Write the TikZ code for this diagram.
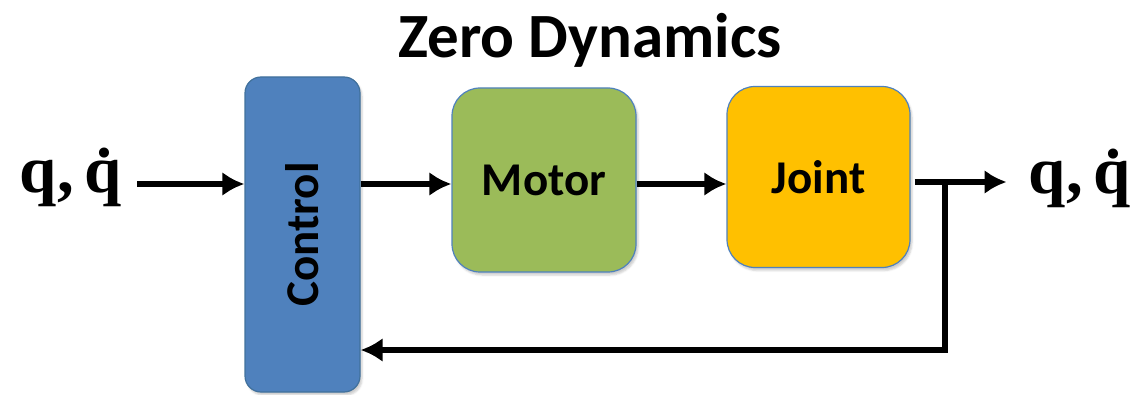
\documentclass[tikz,border=0pt]{standalone}
\usepackage{fontspec}
\setmainfont{Liberation Serif}
\setsansfont{Carlito}
\usepackage{graphicx}
\usetikzlibrary{arrows.meta,shadows.blur}
\definecolor{ctrlblue}{HTML}{4F81BD}
\definecolor{ctrledge}{HTML}{41719C}
\definecolor{motorgreen}{HTML}{9BBB59}
\definecolor{jointorange}{HTML}{FFC000}

\begin{document}
\begin{tikzpicture}[x=1pt,y=-1pt,
  >={Latex[length=22pt,width=24pt]},
  box/.style = {draw=ctrlblue, line width=1.2pt, rounded corners=28pt
    , blur shadow={shadow xshift=2pt,shadow yshift=-3pt,shadow opacity=20}
    , inner sep=0pt, align=center
    , font=\sffamily\bfseries\fontsize{47}{47}\selectfont},
  sig/.style = {line width=6.5pt, ->},
  lbl/.style = {inner sep=0pt, font=\bfseries\fontsize{67}{67}\selectfont}]

 \useasboundingbox (0,0) rectangle (1140,395);
 \coordinate (lvl) at (0,184);
 \coordinate (fb) at (0,350);

 \node [inner sep=0pt, font=\sffamily\bfseries\fontsize{63}{63}\selectfont]
    (ttl) at (590,40) {Zero Dynamics};

 \node[box, fill=ctrlblue, draw=ctrledge, rounded corners=16pt
    , minimum width=115pt, minimum height=315pt] (ctrl) at (302.5,234.5)
    {\rotatebox{90}{Control}};
 \node[box, fill=motorgreen, minimum width=184pt, minimum height=184pt]
    (motor) at (544,180) {Motor};
 \node[box, fill=jointorange, minimum width=183pt, minimum height=181pt]
    (joint) at (818.5,177) {Joint};

 \node[lbl, anchor=base] (qin) at (71,193) {q,\,\.q};
 \node[lbl, anchor=base] (qout) at (1080,194) {q,\,\.q};

 \coordinate (tap) at (945,182);

 \draw[sig] ([xshift=15pt]qin.east |- lvl) -- (ctrl.west |- lvl);
 \draw[sig] (ctrl.east |- lvl) -- (motor.west |- lvl);
 \draw[sig] (motor.east |- lvl) -- (joint.west |- lvl);
 \draw[sig] ([xshift=4pt]joint.east |- tap) -- ([xshift=-22pt]qout.west |- tap);
 \draw[sig] (tap) |- (ctrl.east |- fb);
\end{tikzpicture}
\end{document}
